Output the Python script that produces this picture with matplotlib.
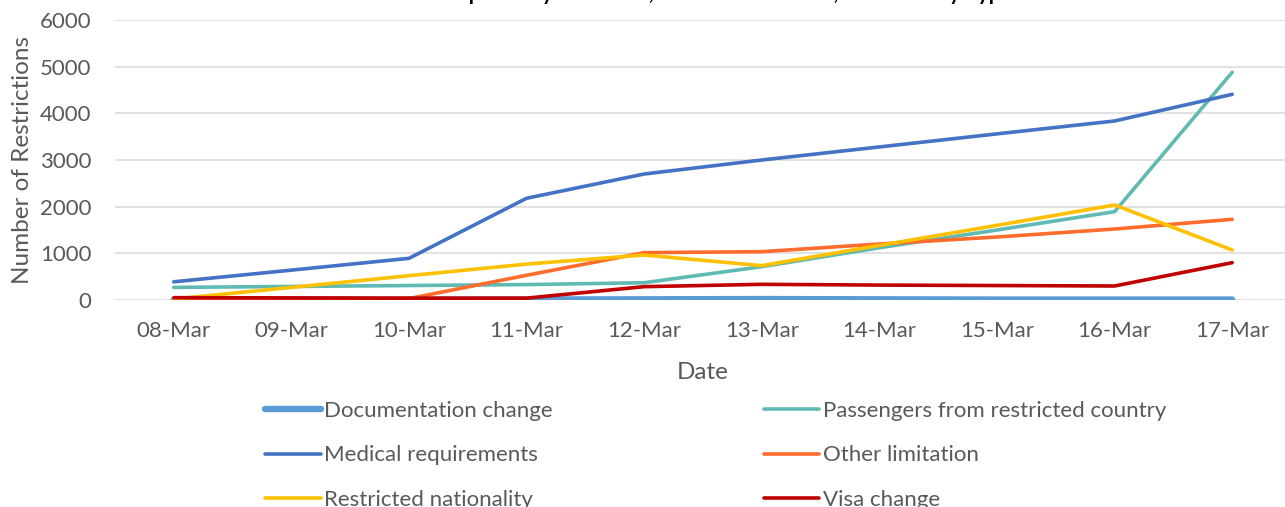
import matplotlib
matplotlib.use("Agg")
import matplotlib.pyplot as plt

plt.rcParams["font.family"] = ["Lato", "DejaVu Sans"]

dates = ["08-Mar", "09-Mar", "10-Mar", "11-Mar", "12-Mar",
         "13-Mar", "14-Mar", "15-Mar", "16-Mar", "17-Mar"]

documentation_change = [5, 5, 5, 10, 15, 20, 15, 10, 10, 10]
passengers_restricted_country = [270, 290, 310, 330, 370, 714, 1120, 1500, 1893, 4880]
medical_requirements = [390, 640, 893, 2180, 2700, 3000, 3280, 3560, 3836, 4407]
other_limitation = [30, 30, 30, 530, 1015, 1035, 1200, 1350, 1521, 1729]
restricted_nationality = [20, 270, 521, 770, 964, 736, 1170, 1600, 2036, 1071]
visa_change = [50, 45, 40, 40, 286, 336, 320, 310, 300, 800]

series = [
    ("Documentation change", documentation_change, "#5B9BD5", 4.6),
    ("Passengers from restricted country", passengers_restricted_country, "#5EBAB2", 2.6),
    ("Medical requirements", medical_requirements, "#4472C4", 2.6),
    ("Other limitation", other_limitation, "#FF6C2C", 2.6),
    ("Restricted nationality", restricted_nationality, "#FFC000", 2.6),
    ("Visa change", visa_change, "#C00000", 2.6),
]

W, H = 1285, 507
fig = plt.figure(figsize=(W / 100, H / 100), dpi=100)
ax = fig.add_axes([115 / W, 1 - 300 / H, (1291 - 115) / W, 280 / H])

x = list(range(len(dates)))
handles = {}
for name, vals, color, lw in series:
    (ln,) = ax.plot(x, vals, color=color, lw=lw, solid_capstyle="round",
                    solid_joinstyle="round", label=name)
    handles[name] = ln

ax.set_xlim(-0.5, len(dates) - 0.5)
ax.set_ylim(0, 6000)
ax.set_yticks(range(0, 6001, 1000))
ax.set_xticks(x)
ax.set_xticklabels(dates)
ax.grid(axis="y", color="#D9D9D9", lw=1.1)
ax.set_axisbelow(True)
for s in ax.spines.values():
    s.set_visible(False)
ax.tick_params(axis="both", length=0, labelsize=16, colors="#595959")
ax.tick_params(axis="y", pad=17)
ax.tick_params(axis="x", pad=15)

ax.set_xlabel("Date", fontsize=17.5, color="#595959", labelpad=15)
ax.set_ylabel("Number of Restrictions", fontsize=17.5, color="#595959", labelpad=5)

# title sits mostly above the canvas, only descenders show
fig.text(1012 / W, 1 + 0.5 / H,
         "Air Travel Restrictions Imposed by Countries, 08-17 March 2020, Classified by Type",
         ha="right", va="baseline", fontsize=15, fontweight="bold", color="black")

order = ["Documentation change", "Medical requirements", "Restricted nationality",
         "Passengers from restricted country", "Other limitation", "Visa change"]
fig.legend([handles[n] for n in order], order, ncol=2, frameon=False,
           loc="upper left", bbox_to_anchor=(265 / W, 1 - 401 / H),
           fontsize=16, labelcolor="#595959", handlelength=2.5,
           handletextpad=0.15, columnspacing=9.5, labelspacing=1.1,
           borderaxespad=0, borderpad=0)

fig.savefig("out.png", dpi=100)
